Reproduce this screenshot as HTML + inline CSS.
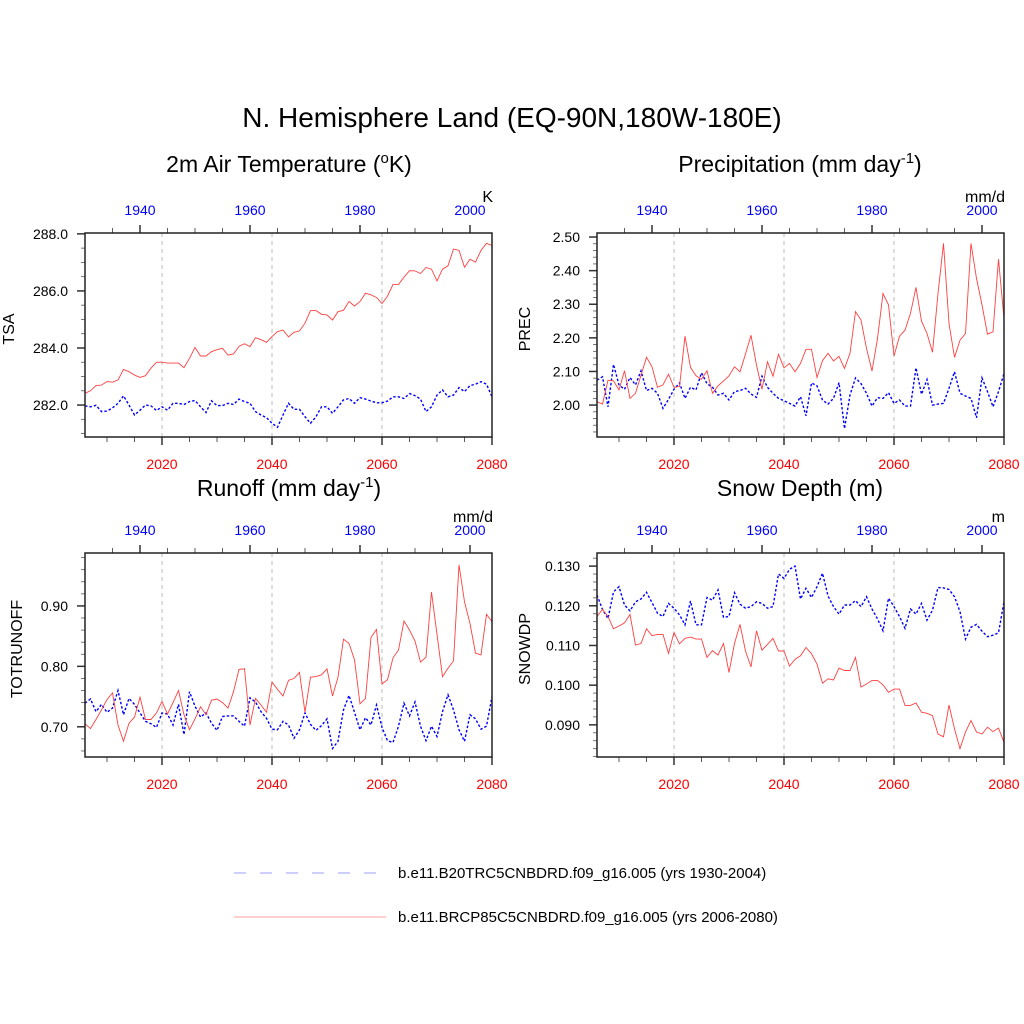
<!DOCTYPE html>
<html><head><meta charset="utf-8"><style>
body{margin:0;background:#fff;}
svg{display:block;font-family:"Liberation Sans",sans-serif;}
</style></head><body>
<svg id="chart" width="1024" height="1024" viewBox="0 0 1024 1024" xmlns="http://www.w3.org/2000/svg">
<rect width="1024" height="1024" fill="#fff"/>
<text x="512" y="127" font-size="28" text-anchor="middle">N. Hemisphere Land (EQ-90N,180W-180E)</text>
<g>
<line x1="234" y1="873" x2="386" y2="873" stroke="#b0b0ff" stroke-width="1.3" stroke-dasharray="12,14"/>
<text x="398" y="878" font-size="15">b.e11.B20TRC5CNBDRD.f09_g16.005 (yrs 1930-2004)</text>
<line x1="234" y1="917" x2="386" y2="917" stroke="#ffb0b0" stroke-width="1.3"/>
<text x="398" y="922" font-size="15">b.e11.BRCP85C5CNBDRD.f09_g16.005 (yrs 2006-2080)</text>
</g>
</svg>
<script>
const tsaRed=[282.41,282.5,282.68,282.7,282.82,282.8,282.88,283.25,283.17,283.05,282.97,283.03,283.29,283.5,283.5,283.47,283.47,283.47,283.31,283.64,284.02,283.72,283.72,283.87,283.94,283.99,283.75,283.79,284.06,284.15,284.05,284.36,284.29,284.2,284.4,284.57,284.63,284.39,284.55,284.6,284.87,285.31,285.31,285.18,285.16,284.98,285.27,285.32,285.63,285.47,285.63,285.92,285.86,285.77,285.56,285.82,286.23,286.23,286.48,286.71,286.7,286.61,286.82,286.76,286.35,286.76,286.88,287.47,287.42,286.83,287.11,287.01,287.42,287.67,287.59];
const tsaBlue=[281.97,281.94,281.99,281.77,281.79,281.9,282.06,282.32,282.0,281.65,281.82,282.0,281.97,281.81,281.94,281.82,282.06,282.06,282.02,282.12,282.16,281.94,281.74,282.15,281.98,281.98,282.06,282.02,282.21,282.12,282.06,281.77,281.65,281.56,281.36,281.22,281.65,282.06,281.85,281.85,281.59,281.36,281.59,281.94,281.94,281.71,281.94,282.18,282.23,282.06,282.26,282.21,282.14,282.08,282.08,282.14,282.29,282.29,282.23,282.4,282.33,282.21,281.77,281.94,282.35,282.53,282.29,282.35,282.61,282.47,282.68,282.73,282.82,282.73,282.29];
const precRed=[2.010,2.003,2.074,2.072,2.045,2.102,2.020,2.035,2.089,2.142,2.114,2.053,2.06,2.092,2.053,2.055,2.205,2.112,2.087,2.077,2.102,2.035,2.057,2.072,2.087,2.114,2.099,2.152,2.208,2.119,2.047,2.129,2.086,2.151,2.111,2.124,2.099,2.124,2.166,2.166,2.082,2.132,2.154,2.131,2.145,2.109,2.154,2.278,2.253,2.169,2.101,2.198,2.332,2.298,2.146,2.205,2.223,2.273,2.350,2.25,2.213,2.157,2.332,2.481,2.243,2.142,2.193,2.213,2.481,2.377,2.298,2.211,2.218,2.434,2.258];
const precBlue=[2.074,2.084,1.995,2.121,2.06,2.047,2.082,2.06,2.102,2.043,2.05,2.035,1.99,2.017,2.047,2.066,2.02,2.053,2.045,2.096,2.064,2.053,2.03,2.035,2.015,2.04,2.043,2.05,2.033,2.023,2.086,2.053,2.035,2.02,2.013,2.005,1.997,2.025,1.968,2.066,2.057,2.015,2.003,2.02,2.067,1.93,2.03,2.081,2.064,2.035,1.997,2.022,2.02,2.037,2.005,2.015,1.997,1.997,2.111,2.032,2.076,2.0,2.003,2.005,2.05,2.099,2.035,2.027,2.02,1.962,2.081,2.04,1.995,2.04,2.094];
const roRed=[0.705,0.697,0.712,0.728,0.745,0.756,0.703,0.676,0.706,0.716,0.749,0.712,0.712,0.723,0.742,0.721,0.74,0.76,0.72,0.695,0.713,0.733,0.72,0.744,0.746,0.74,0.731,0.758,0.795,0.796,0.703,0.747,0.736,0.724,0.774,0.762,0.751,0.777,0.78,0.79,0.724,0.782,0.783,0.786,0.796,0.751,0.782,0.845,0.838,0.811,0.738,0.747,0.848,0.861,0.771,0.778,0.814,0.827,0.875,0.86,0.842,0.807,0.815,0.923,0.853,0.783,0.797,0.809,0.968,0.907,0.871,0.822,0.819,0.886,0.874];
const roBlue=[0.739,0.746,0.725,0.737,0.724,0.731,0.76,0.72,0.747,0.737,0.723,0.709,0.705,0.699,0.723,0.721,0.703,0.737,0.687,0.758,0.734,0.716,0.723,0.706,0.694,0.717,0.718,0.718,0.709,0.701,0.748,0.741,0.725,0.714,0.696,0.695,0.709,0.703,0.681,0.695,0.723,0.704,0.694,0.702,0.713,0.664,0.676,0.728,0.752,0.724,0.695,0.715,0.703,0.736,0.699,0.677,0.674,0.701,0.739,0.718,0.741,0.701,0.677,0.701,0.684,0.725,0.753,0.728,0.695,0.676,0.72,0.713,0.696,0.701,0.75];
const snowRed=[0.1173,0.1191,0.1173,0.1142,0.1149,0.1157,0.1178,0.1101,0.1105,0.1142,0.1125,0.1128,0.1128,0.108,0.1133,0.1104,0.1118,0.1121,0.1116,0.1116,0.107,0.1087,0.1076,0.1105,0.1032,0.1105,0.1153,0.1086,0.1046,0.1137,0.1088,0.1103,0.1118,0.1086,0.1086,0.1048,0.1065,0.1074,0.1095,0.1079,0.1053,0.1005,0.1016,0.1013,0.1043,0.1037,0.1037,0.107,0.0995,0.1003,0.1012,0.1012,0.1001,0.0982,0.099,0.099,0.0949,0.0949,0.0955,0.0932,0.0929,0.0923,0.0877,0.087,0.095,0.089,0.084,0.0882,0.0911,0.0882,0.0877,0.0894,0.0883,0.0892,0.0856];
const snowBlue=[0.1227,0.1191,0.1168,0.1235,0.1248,0.1202,0.1187,0.121,0.1217,0.1234,0.1208,0.1181,0.1173,0.1206,0.1194,0.1177,0.1152,0.1212,0.1152,0.1152,0.1221,0.1214,0.124,0.1171,0.1173,0.1233,0.1204,0.1194,0.1198,0.121,0.1206,0.1194,0.1198,0.128,0.1269,0.1292,0.13,0.1217,0.1244,0.1221,0.1248,0.1282,0.1225,0.1198,0.1179,0.1202,0.1202,0.1213,0.1198,0.1223,0.1192,0.1167,0.1137,0.1219,0.1198,0.1173,0.1143,0.1192,0.1179,0.1206,0.1164,0.1189,0.1246,0.1245,0.1241,0.1223,0.1185,0.1116,0.1146,0.1153,0.1136,0.1122,0.1126,0.1132,0.121];
const bottomTicks=[2020,2040,2060,2080];
const topTicks=[1940,1960,1980,2000];
const tsaTicks=["282.0","284.0","286.0","288.0"];
const precTicks=["2.00","2.10","2.20","2.30","2.40","2.50"];
const roTicks=["0.70","0.80","0.90"];
const snowTicks=["0.090","0.100","0.110","0.120","0.130"];

const NS="http://www.w3.org/2000/svg";
const svg=document.getElementById('chart');
function mk(tag,attrs,parent){const e=document.createElementNS(NS,tag);for(const k in attrs)e.setAttribute(k,attrs[k]);(parent||svg).appendChild(e);return e;}

const panels=[
 {key:'tsa',x0:85,y0:233,ymin:280.88,ymax:288.03,minor:0.5,ticks:tsaTicks,red:tsaRed,blue:tsaBlue,ylab:'TSA',unit:'K',title:['2m Air Temperature (','o','K)'],tx:289,ty:172,labx:14},
 {key:'prec',x0:597,y0:233,ymin:1.905,ymax:2.512,minor:0.02,ticks:precTicks,red:precRed,blue:precBlue,ylab:'PREC',unit:'mm/d',title:['Precipitation (mm day','-1',')'],tx:800,ty:172,labx:530},
 {key:'runoff',x0:85,y0:553,ymin:0.650,ymax:0.9876,minor:0.02,ticks:roTicks,red:roRed,blue:roBlue,ylab:'TOTRUNOFF',unit:'mm/d',title:['Runoff (mm day','-1',')'],tx:289,ty:496,labx:22},
 {key:'snow',x0:597,y0:553,ymin:0.0819,ymax:0.1333,minor:0.002,ticks:snowTicks,red:snowRed,blue:snowBlue,ylab:'SNOWDP',unit:'m',title:['Snow Depth (m)','',''],tx:800,ty:496,labx:530}
];
const W=407,H=204;
panels.forEach(p=>{
 const g=mk('g',{});
 
 
 const xB=yr=>p.x0+(yr-2006)/74*W;
 const xT=yr=>p.x0+(yr-1930)/74*W;
 const yS=v=>p.y0+H-(v-p.ymin)/(p.ymax-p.ymin)*H;
 const t=mk('text',{x:p.tx,y:p.ty,'font-size':23,'text-anchor':'middle'},g);
 
 
 t.appendChild(document.createTextNode(p.title[0]));
 if(p.title[1]){const s=mk('tspan',{dy:-9,'font-size':15},t);s.textContent=p.title[1];const s2=mk('tspan',{dy:9},t);s2.textContent=p.title[2];}
 bottomTicks.slice(0,3).forEach(yr=>{
  const l=mk('line',{x1:xB(yr),x2:xB(yr),y1:p.y0,y2:p.y0+H,stroke:'#bbb','stroke-width':1,'stroke-dasharray':'4,4'},g);
  
  
 });
 for(let yr=2010;yr<=2080;yr+=5){const maj=yr%20===0;mk('line',{x1:xB(yr),x2:xB(yr),y1:p.y0+H,y2:p.y0+H+(maj?8:5),stroke:'#333','stroke-width':maj?1.5:0.8},g);}
 bottomTicks.forEach(yr=>{const l=mk('text',{x:xB(yr),y:p.y0+H+32,'font-size':14,fill:'#ff0000','text-anchor':'middle'},g);l.textContent=yr;
  
  });
 for(let yr=1935;yr<=2000;yr+=5){const maj=yr%20===0;mk('line',{x1:xT(yr),x2:xT(yr),y1:p.y0,y2:p.y0-(maj?8:5),stroke:'#333','stroke-width':maj?1.5:0.8},g);}
 topTicks.forEach(yr=>{const l=mk('text',{x:xT(yr),y:p.y0-18,'font-size':14,fill:'#0000ff','text-anchor':'middle'},g);l.textContent=yr;
  
  });
 const n0=Math.ceil(p.ymin/p.minor-1e-6),n1=Math.floor(p.ymax/p.minor+1e-6);
 for(let n=n0;n<=n1;n++){const v=n*p.minor;mk('line',{x1:p.x0,x2:p.x0-4,y1:yS(v),y2:yS(v),stroke:'#555','stroke-width':0.8},g);}
 p.ticks.forEach(s=>{const v=parseFloat(s);mk('line',{x1:p.x0,x2:p.x0-8,y1:yS(v),y2:yS(v),stroke:'#333','stroke-width':1.5},g);
  const l=mk('text',{x:p.x0-17,y:yS(v)+5,'font-size':14,'text-anchor':'end'},g);l.textContent=s;
  
  });
 const yl=mk('text',{x:p.labx+6,y:p.y0+H/2,'font-size':16,'text-anchor':'middle',transform:`rotate(-90 ${p.labx} ${p.y0+H/2})`},g);
 yl.textContent=p.ylab;
 
 
 const u=mk('text',{x:p.x0+W+1,y:p.y0-31,'font-size':16,'text-anchor':'end'},g);
 u.textContent=p.unit;
 
 
 const bp=p.blue.map((v,i)=>xT(1930+i).toFixed(1)+','+yS(v).toFixed(1)).join(' ');
 const b=mk('polyline',{points:bp,fill:'none',stroke:'#0000ff','stroke-width':1.4,'stroke-dasharray':'2.5,2'},g);
 
 
 const rp=p.red.map((v,i)=>xB(2006+i).toFixed(1)+','+yS(v).toFixed(1)).join(' ');
 const r=mk('polyline',{points:rp,fill:'none',stroke:'#ff4040','stroke-width':0.9},g);
 
 
 const box=mk('rect',{x:p.x0,y:p.y0,width:W,height:H,fill:'none',stroke:'#222','stroke-width':1.5},g);
 
 
});
</script>
</body></html>
